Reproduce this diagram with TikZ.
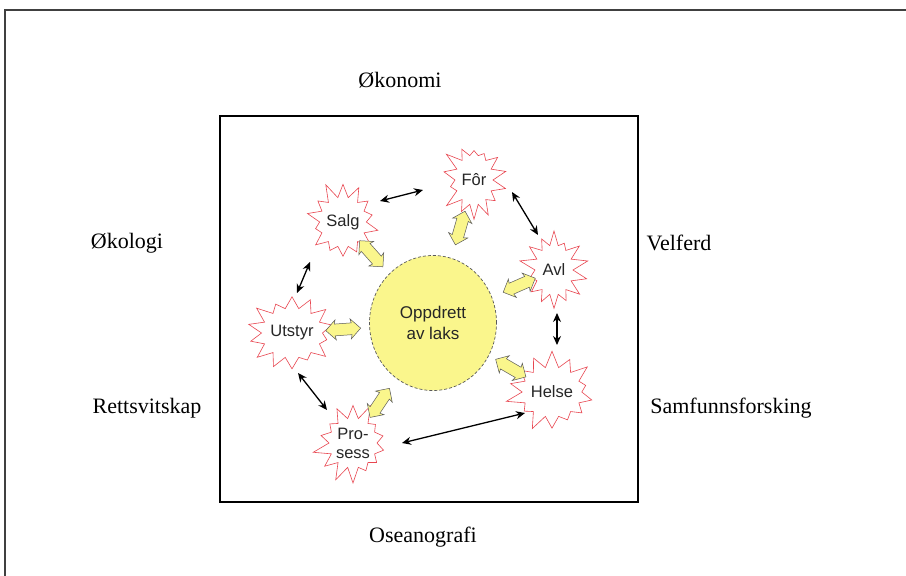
\documentclass[tikz,border=0pt]{standalone}
\usepackage{fontspec}
\setmainfont{Liberation Serif}
\newfontfamily\arialf{Liberation Sans}
\usetikzlibrary{shapes.symbols,shapes.arrows,shapes.geometric,arrows.meta,calc}
\definecolor{starred}{RGB}{232,70,80}
\definecolor{ylw}{RGB}{250,246,140}
\tikzset{
  field/.style={font=\fontsize{22}{26}\selectfont, inner sep=0pt},
  burst/.style={starburst, draw=starred, line width=0.6pt, starburst points=14,
    starburst point height=17pt, minimum width=72pt, minimum height=84pt,
    inner sep=0pt, font=\arialf\fontsize{16.5}{19}\selectfont, align=center, text=black!85},
  hub/.style={ellipse, draw=black!65, densely dashed, fill=ylw, line width=0.7pt,
    minimum width=127pt, minimum height=135pt, inner sep=0pt,
    font=\arialf\fontsize{17}{21}\selectfont, align=center, text=black!85},
  barrow/.style={{Stealth[length=9pt,width=8pt]}-{Stealth[length=9pt,width=8pt]}, line width=1.3pt},
  yarr/.style={double arrow, draw=black!65, fill=ylw, line width=0.5pt,
    minimum height=35pt, minimum width=20pt, inner xsep=0pt, inner ysep=5.5pt,
    double arrow head extend=4pt, double arrow head indent=1pt},
}
\begin{document}
\begin{tikzpicture}[x=1pt,y=-1pt]
\useasboundingbox (0,0) rectangle (906,576);
\fill[white] (0,0) rectangle (906,576);
% outer frame
\draw[line width=1.5pt, black!75] (5,576) -- (5,10) -- (906,10);
% inner box
\draw[line width=1.5pt] (220,116) rectangle (638,502);
% field labels
\node[field] (okonomi) at (400,80) {Økonomi};
\node[field] (okologi) at (127,243) {Økologi};
\node[field] (velferd) at (679,243) {Velferd};
\node[field] (retts) at (147,408) {Rettsvitskap};
\node[field] (samf) at (731,408) {Samfunnsforsking};
\node[field] (osean) at (423,537) {Oseanografi};
% hub
\node[hub] (c) at (433,323) {Oppdrett\\av laks};
% starbursts
\node[burst, random starburst=11] (salg) at (343,222) {Salg};
\node[burst, random starburst=23] (for) at (474,180) {Fôr};
\node[burst, random starburst=37] (avl) at (554,270) {Avl};
\node[burst, random starburst=41] (utstyr) at (292,333) {Utstyr};
\node[burst, random starburst=53] (helse) at (552,392) {Helse};
\node[burst, random starburst=67] (prosess) at (353,443) {Pro-\\sess};
% yellow block arrows
\path (c) -- (salg) node[yarr, pos=0.65, sloped] (ya1) {};
\path (c) -- (for) node[yarr, pos=0.6, sloped] (ya2) {};
\path (c) -- (avl) node[yarr, pos=0.655, sloped] (ya3) {};
\path (c) -- (utstyr) node[yarr, pos=0.6, sloped] (ya4) {};
\path (c) -- (helse) node[yarr, pos=0.65, sloped] (ya5) {};
\path (c) -- (prosess) node[yarr, pos=0.6, sloped] (ya6) {};
% black double arrows
\draw[barrow] ($(salg)+(37,-21)$) -- ($(for)+(-51,10)$);
\draw[barrow] ($(for)+(38,12)$) -- ($(avl)+(-16,-35)$);
\draw[barrow] ($(avl)+(3,43)$) -- ($(helse)+(5,-47)$);
\draw[barrow] ($(salg)+(-33,40)$) -- ($(utstyr)+(5,-40)$);
\draw[barrow] ($(utstyr)+(6,40)$) -- ($(prosess)+(-26,-33)$);
\draw[barrow] ($(prosess)+(49,0)$) -- ($(helse)+(-27,21)$);
\end{tikzpicture}
\end{document}
